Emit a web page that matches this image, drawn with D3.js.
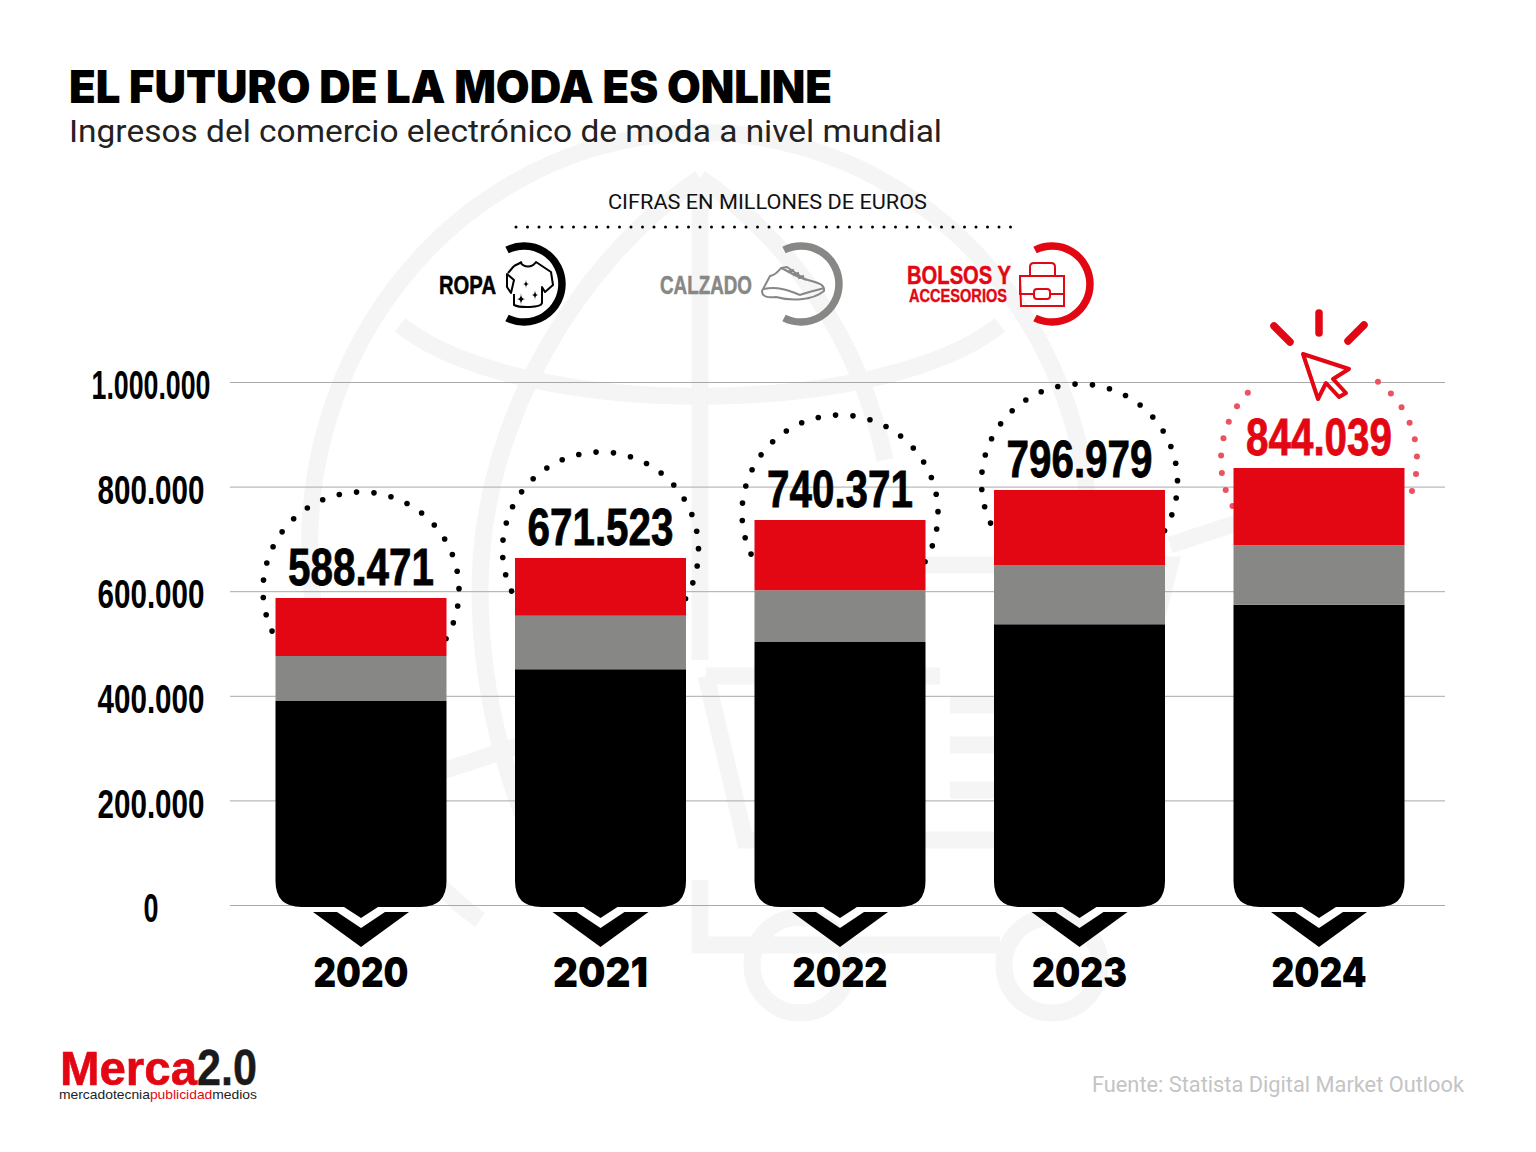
<!DOCTYPE html>
<html><head><meta charset="utf-8">
<script src="https://cdn.jsdelivr.net/npm/d3@7"></script>
<style>html,body{margin:0;padding:0;background:#fff}svg{display:block}</style>
</head><body><svg id="c" width="1536" height="1152"></svg>
<script>
const years = ["2020","2021","2022","2023","2024"];
const ropa = [390000,451000,503000,537000,574000];
const calzado = [86000,102000,99000,113000,114000];
const bolsos = [111000,110500,134000,143500,147500];
const totals = [588471,671523,740371,796979,844039];
const yTicks = [0,200000,400000,600000,800000,1000000];
const seriesNames = ["ropa","calzado","bolsos"];
const seriesColors = ["#000000","#878785","#e30613"];

const RED="#e30613", GREY="#878785", NARROW="'Liberation Sans Narrow','Liberation Sans',sans-serif", HEAVY="Inter,'Noto Sans',sans-serif";
const svg=d3.select("#c");
const fmt=d3.formatLocale({decimal:",",thousands:".",grouping:[3],currency:["","€"]}).format(",d");
const y=d3.scaleLinear().domain([0,1000000]).range([905,382]);
const x=d3.scaleBand().domain(years).range([241.25,1438.75]).paddingInner(.286).paddingOuter(.143);
const txt=(g,s,px,py,o)=>{const t=g.append("text").attr("x",px).attr("y",py).text(s)
  .attr("font-family",o.f).attr("font-size",o.s).attr("font-weight",o.w||400).attr("fill",o.c||"#000")
  .attr("text-anchor",o.a||"start");
  if(o.l)t.attr("textLength",o.l).attr("lengthAdjust","spacingAndGlyphs");
  if(o.st)t.attr("stroke",o.c||"#000").attr("stroke-width",o.st).attr("paint-order","stroke");
  return t;};

// watermark globe and cart
const wm=svg.append("g").attr("fill","none").attr("stroke","#f5f5f5").attr("stroke-width",17);
wm.append("path").attr("d","M312 590A390 412 0 0 1 1088 500");
wm.append("path").attr("d","M312 590A390 412 0 0 0 480 920");
wm.append("path").attr("d","M700 178C580 260 480 420 480 590C480 700 510 800 560 900");
wm.append("path").attr("d","M700 178C790 240 860 340 885 460");
wm.append("path").attr("d","M700 178V660");
wm.append("path").attr("d","M400 325C520 420 880 420 1000 325");
wm.append("path").attr("d","M330 800C380 790 450 770 520 745");
wm.append("path").attr("d","M706 676H940M925 565H1170L1100 840H745L706 676");
wm.append("path").attr("d","M1170 545L1240 522");
wm.append("path").attr("d","M950 705H1040M950 745H1030M950 790H1020");
wm.append("path").attr("d","M700 880V945H1000");
wm.append("circle").attr("cx",800).attr("cy",965).attr("r",48);
wm.append("circle").attr("cx",1052).attr("cy",965).attr("r",48);

// grid + axis
const axis=d3.axisLeft(y).tickValues(yTicks).tickSize(-1215).tickPadding(0).tickFormat(fmt);
const ag=svg.append("g").attr("transform","translate(230,0)").call(axis);
ag.select(".domain").remove();
ag.selectAll(".tick line").attr("stroke","#a9a9a9").attr("stroke-width",1);
const tickW={0:15,200000:107,400000:107,600000:107,800000:107,1000000:119};
ag.selectAll(".tick text").attr("x",-79).attr("dy",".36em").attr("text-anchor","middle")
  .attr("font-family",NARROW).attr("font-weight",700).attr("font-size",41).attr("fill","#000")
  .attr("textLength",d=>tickW[d]).attr("lengthAdjust","spacingAndGlyphs")
  .attr("transform","translate(0,2)");

// dotted arcs
const arcCy=[590,550,513,482,460];
years.forEach((yr,i)=>{
  const cx=x(yr)+x.bandwidth()/2, isLast=i===4;
  const angs=d3.range(0,isLast?13:18).map(k=>k);
  const g=svg.append("g");
  const step=10.2;
  const list=[];
  if(!isLast){for(let a=-125;a<=125;a+=step)list.push(a);}
  else{for(let a=-118;a<=-37;a+=step)list.push(a);for(let a=37;a<=118;a+=step)list.push(a);}
  g.selectAll("circle").data(list).join("circle")
    .attr("cx",d=>cx+98*Math.sin(d*Math.PI/180))
    .attr("cy",d=>arcCy[i]-98*Math.cos(d*Math.PI/180))
    .attr("r",isLast?3:2.8).attr("fill",isLast?"#ec5160":"#000");
});

// stacked bars
const stack=d3.stack().keys(seriesNames)(years.map((yr,i)=>({year:yr,ropa:ropa[i],calzado:calzado[i],bolsos:bolsos[i]})));
stack.forEach((s,si)=>{
  const g=svg.append("g").attr("fill",seriesColors[si]);
  g.selectAll("path").data(s).join("path").attr("d",d=>{
    const l=x(d.data.year), r=l+x.bandwidth(), t=y(d[1]), b=y(d[0]);
    if(si>0) return `M${l} ${t}H${r}V${b}H${l}Z`;
    const bb=b+2, cr=26, c=(l+r)/2;
    return `M${l} ${t}H${r}V${bb-cr}Q${r} ${bb} ${r-cr} ${bb}H${c+17}L${c} ${bb+11}L${c-17} ${bb}H${l+cr}Q${l} ${bb} ${l} ${bb-cr}Z`;
  });
});

// chevrons and year labels
const lg=svg.append("g");
years.forEach(yr=>{
  const c=x(yr)+x.bandwidth()/2;
  lg.append("path").attr("d",`M${c-48} 912H${c-24}L${c} 928L${c+24} 912H${c+48}L${c} 947Z`).attr("fill","#000");
  txt(lg,yr,c,987,{f:HEAVY,s:41,w:900,a:"middle",l:95});
});

// totals
years.forEach((yr,i)=>{
  const c=x(yr)+x.bandwidth()/2;
  txt(svg,fmt(totals[i]),c,y(d3.sum([ropa[i],calzado[i],bolsos[i]]))-13,{f:NARROW,s:51,w:700,a:"middle",l:146,c:i===4?RED:"#000",st:.8});
});

// titles
txt(svg,"EL FUTURO DE LA MODA ES ONLINE",69,103,{f:HEAVY,s:45,w:900,l:763});
txt(svg,"Ingresos del comercio electrónico de moda a nivel mundial",69,142,{f:"Roboto,sans-serif",s:31,l:873,c:"#222"});
txt(svg,"CIFRAS EN MILLONES DE EUROS",608,209,{f:"Roboto,sans-serif",s:21,l:319,c:"#111"});
svg.append("line").attr("x1",516).attr("x2",1022).attr("y1",227).attr("y2",227)
  .attr("stroke","#000").attr("stroke-width",3).attr("stroke-linecap","round").attr("stroke-dasharray","0 11.5");

// legend
const legendArc=(cx,col)=>svg.append("path").attr("fill","none").attr("stroke",col).attr("stroke-width",7.5)
  .attr("d",`M${cx-21} 250A38 38 0 1 1 ${cx-21} 318`);
legendArc(528,"#000");legendArc(805,GREY);legendArc(1056,RED);
txt(svg,"ROPA",439,294,{f:NARROW,s:25,w:700,l:57,st:.5});
txt(svg,"CALZADO",660,294,{f:NARROW,s:25,w:700,l:92,c:GREY,st:.5});
txt(svg,"BOLSOS Y",907,284,{f:NARROW,s:25,w:700,l:104,c:RED,st:.5});
txt(svg,"ACCESORIOS",909,302,{f:NARROW,s:18,w:700,l:98,c:RED,st:.4});
// shirt
const ic=svg.append("g").attr("fill","none").attr("stroke","#000").attr("stroke-width",2).attr("stroke-linejoin","round");
ic.append("path").attr("d","M520 262C524 268 532 268 536 262L551 272L553 285L545 292L542 287V303C541 308 520 308 514 305V294M514 280L511 293L507 287L507 274Z");
ic.append("path").attr("d","M522 262L514 266M514 266L508 273");
[[526,284,4.5],[535,295,5],[521,299,6]].forEach(([a,b,r])=>ic.append("path").attr("fill","#000").attr("stroke","none")
  .attr("d",`M${a} ${b-r}Q${a} ${b} ${a+r*.7} ${b}Q${a} ${b} ${a} ${b+r}Q${a} ${b} ${a-r*.7} ${b}Q${a} ${b} ${a} ${b-r}Z`));
// shoe
const sh=svg.append("g").attr("fill","none").attr("stroke",GREY).attr("stroke-width",2).attr("stroke-linejoin","round");
sh.append("path").attr("d","M770 276L762 291C762 297 768 298 776 297C790 301 812 301 824 291C825 284 818 283 808 280C798 278 786 270 781 268C778 272 775 275 770 276Z");
sh.append("path").attr("d","M781 268L787 267L806 280M764 289C778 286 790 291 800 295M800 295C808 292 818 290 824 288");
sh.append("path").attr("d","M788 272L794 270M793 275L799 273M798 278L804 276").attr("stroke-width",2.5);
// case
const cs=svg.append("g").attr("fill","none").attr("stroke",RED).attr("stroke-width",2);
cs.append("path").attr("d","M1020 276H1064V306H1021ZM1020 276V294H1033M1050 294H1064V276M1030 276V267Q1030 263 1034 263H1051Q1055 263 1055 267V276");
cs.append("rect").attr("x",1034).attr("y",289).attr("width",16).attr("height",10).attr("rx",3);

// cursor
const cu=svg.append("g").attr("fill","none").attr("stroke",RED).attr("stroke-linecap","round").attr("stroke-linejoin","round");
cu.append("path").attr("stroke-width",7.5).attr("d","M1274 326L1290 342M1319 313V333M1364 325L1348 341");
cu.append("path").attr("stroke-width",4).attr("d","M1303 354L1349 369L1333 379L1346 393L1339 397L1326 383L1318 399Z");

// logo and source
txt(svg,"Merca",60,1085,{f:"'Liberation Sans',sans-serif",s:49,w:700,l:137,c:RED,st:.6});
txt(svg,"2.0",197,1085,{f:"'Liberation Sans',sans-serif",s:50,w:700,l:60,c:"#1a1a1a",st:.4});
const tag=svg.append("text").attr("x",59).attr("y",1099).attr("font-family","'Liberation Sans',sans-serif").attr("font-size",13.2)
  .attr("textLength",198).attr("lengthAdjust","spacingAndGlyphs").attr("fill","#222");
tag.append("tspan").text("mercadotecnia");
tag.append("tspan").attr("fill",RED).text("publicidad");
tag.append("tspan").text("medios");
txt(svg,"Fuente: Statista Digital Market Outlook",1092,1092,{f:"Roboto,sans-serif",s:22,l:372,c:"#c4c4c4"});
</script></body></html>
